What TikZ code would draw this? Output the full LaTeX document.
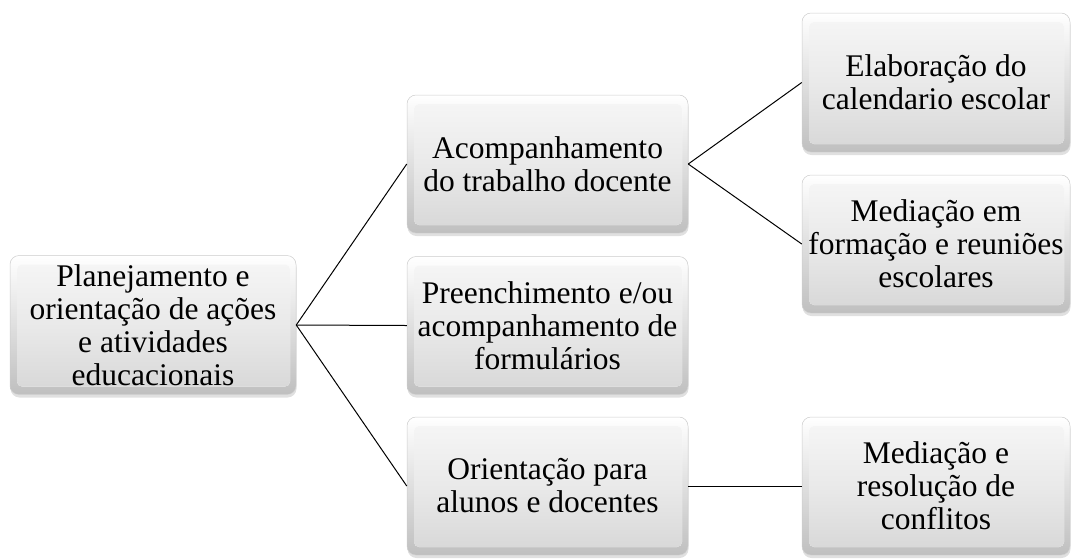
\documentclass[tikz,border=0pt]{standalone}
\usepackage{fontspec}
\setmainfont{Liberation Serif}
\usetikzlibrary{shadows,calc}
\begin{document}
\begin{tikzpicture}[x=1pt,y=-1pt,
  box/.style={rounded corners=9pt, align=center, inner sep=0pt,
    fill=white, draw=gray!40, line width=0.5pt,
    font=\fontsize{31.5}{33}\selectfont,
    drop shadow={shadow xshift=0.5pt, shadow yshift=-3pt, opacity=0.3, fill=gray!80},
    path picture={
      \fill[top color=white, bottom color=gray!50]
        (path picture bounding box.south west) rectangle (path picture bounding box.north east);
      \fill[rounded corners=5pt, top color=gray!8, bottom color=gray!30, middle color=gray!17]
        ([shift={(7pt,-9pt)}]path picture bounding box.north west) rectangle
        ([shift={(-6pt,8pt)}]path picture bounding box.south east);
    }},
  conn/.style={draw=black, line width=1pt}]
\useasboundingbox (0,0) rectangle (1073,558);
\node[box, minimum width=286pt, minimum height=139pt] (root) at (153,325) {Planejamento e\\orientação de ações\\e atividades\\educacionais};
\node[box, minimum width=281pt, minimum height=138pt] (acomp) at (547.5,164) {Acompanhamento\\do trabalho docente};
\node[box, minimum width=281pt, minimum height=138pt] (preen) at (547.5,325.5) {Preenchimento e/ou\\acompanhamento de\\formulários};
\node[box, minimum width=281pt, minimum height=138pt] (orient) at (547.5,486) {Orientação para\\alunos e docentes};
\node[box, minimum width=268pt, minimum height=139pt] (elab) at (936,82.5) {Elaboração do\\calendario escolar};
\node[box, minimum width=268pt, minimum height=138pt] (medf) at (936,244) {Mediação em\\formação e reuniões\\escolares};
\node[box, minimum width=268pt, minimum height=138pt] (medr) at (936,486) {Mediação e\\resolução de\\conflitos};
\draw[conn] (root.east) -- (acomp.west);
\draw[conn] (root.east) -- (preen.west);
\draw[conn] (root.east) -- (orient.west);
\draw[conn] (acomp.east) -- (elab.west);
\draw[conn] (acomp.east) -- (medf.west);
\draw[conn] (orient.east) -- (medr.west);
\end{tikzpicture}
\end{document}
